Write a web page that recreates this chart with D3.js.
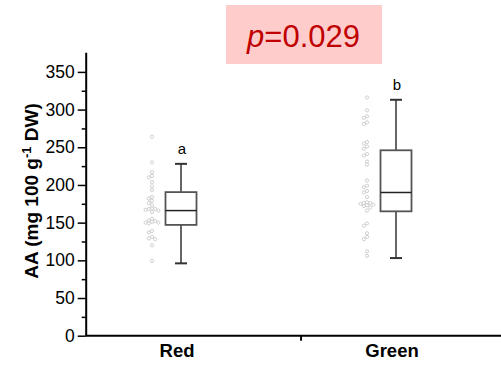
<!DOCTYPE html>
<html><head><meta charset="utf-8">
<script src="https://cdn.jsdelivr.net/npm/d3@7"></script>
<style>body{margin:0;background:#fff}</style>
</head><body><svg id="c" width="501" height="366"></svg>
<script>
const categories = ["Red", "Green"];
const letters = ["a", "b"];
const redValues = [264, 230, 217, 212, 210, 204, 198, 193, 184, 182, 179, 176, 173, 169, 168, 168, 167, 166, 164, 155, 153, 152, 151, 150, 150, 149, 139, 137, 131, 129, 128, 120, 99];
const greenValues = [316, 299, 291, 289, 283, 281, 257, 255, 251, 248, 241, 239, 231, 227, 206, 199, 197, 192, 190, 184, 177, 176, 176, 175, 174, 173, 172, 170, 166, 149, 146, 136, 131, 128, 112, 106];
const whiskerLow = [96, 103];
const q1 = [147, 165];
const median = [166, 190];
const q3 = [190.5, 246];
const whiskerHigh = [228, 313];
const yTicks = [0, 50, 100, 150, 200, 250, 300, 350];
const yMinorTicks = [25, 75, 125, 175, 225, 275, 325];
const pValue = "0.029";
const seriesValues = [redValues, greenValues];

const svg = d3.select("#c");
const font = "'Liberation Sans', Arial, sans-serif";
const y = d3.scaleLinear().domain([0, 376]).range([335.7, 52.3]);
const x = d3.scaleLinear().domain([0, 1]).range([177, 392]);

// p-value box
svg.append("rect").attr("x", 226).attr("y", 5).attr("width", 156).attr("height", 59).attr("fill", "#ffcccc");
const pt = svg.append("text").attr("x", 303.5).attr("y", 47).attr("text-anchor", "middle")
  .attr("font-family", font).attr("font-size", 31).attr("fill", "#c00000");
pt.append("tspan").attr("font-style", "italic").text("p");
pt.append("tspan").text("=" + pValue);

// y axis
const yAxis = svg.append("g").attr("transform", "translate(85.7,0)")
  .call(d3.axisLeft(y).tickValues(yTicks).tickSize(8).tickSizeOuter(0).tickPadding(3));
yAxis.selectAll("text").attr("font-family", font).attr("font-size", 17.5).attr("fill", "#000");
yAxis.selectAll("line").attr("stroke", "#000").attr("stroke-width", 1.5);
yAxis.select(".domain").attr("stroke", "#000").attr("stroke-width", 2);
const yMinor = svg.append("g").attr("transform", "translate(85.7,0)")
  .call(d3.axisLeft(y).tickValues(yMinorTicks).tickSize(4).tickFormat(""));
yMinor.select(".domain").remove();
yMinor.selectAll("line").attr("stroke", "#000").attr("stroke-width", 1.5);

// x axis
svg.append("line").attr("x1", 85.7).attr("x2", 501).attr("y1", y(0)).attr("y2", y(0))
  .attr("stroke", "#000").attr("stroke-width", 2);
svg.append("line").attr("x1", x(0.577)).attr("x2", x(0.577)).attr("y1", y(0)).attr("y2", y(0) + 5)
  .attr("stroke", "#000").attr("stroke-width", 2);
svg.selectAll(".xl").data(categories).enter().append("text")
  .attr("x", (d, i) => x(i)).attr("y", 356.7).attr("text-anchor", "middle")
  .attr("font-family", font).attr("font-weight", "bold").attr("font-size", 18.5).text(d => d);

// y label
const yl = svg.append("text").attr("transform", "translate(37.5,191) rotate(-90)")
  .attr("text-anchor", "middle").attr("font-family", font).attr("font-weight", "bold").attr("font-size", 19);
yl.append("tspan").text("AA (mg 100 g");
yl.append("tspan").attr("font-size", 13).attr("dy", -7).text("-1");
yl.append("tspan").attr("dy", 7).text(" DW)");

// dots (beeswarm)
const r = 1.6, step = 3.2;
seriesValues.forEach((vals, i) => {
  const cx0 = x(i) - 25;
  const placed = [];
  vals.slice().sort((a, b) => b - a).forEach(v => {
    const py = y(v);
    for (let k = 0; k < 20; k++) {
      const off = (k % 2 === 0 ? 1 : -1) * Math.ceil(k / 2) * step;
      const px = cx0 + off;
      if (!placed.some(p => Math.abs(p[0] - px) < 2.9 && Math.abs(p[1] - py) < 2.9)) {
        placed.push([px, py]); break;
      }
    }
  });
  svg.append("g").selectAll("circle").data(placed).enter().append("circle")
    .attr("cx", d => d[0]).attr("cy", d => d[1]).attr("r", r)
    .attr("fill", "#fff").attr("stroke", "#c4c4c4").attr("stroke-width", 0.8);
});

// boxes
categories.forEach((c, i) => {
  const cx = x(i) + 4, bw = 31, cw = 12;
  const g = svg.append("g").attr("stroke", "#555").attr("stroke-width", 2).attr("fill", "none");
  g.append("line").attr("x1", cx).attr("x2", cx).attr("y1", y(whiskerHigh[i])).attr("y2", y(q3[i])).attr("stroke", "#666");
  g.append("line").attr("x1", cx).attr("x2", cx).attr("y1", y(q1[i])).attr("y2", y(whiskerLow[i])).attr("stroke", "#666");
  g.append("line").attr("x1", cx - cw / 2).attr("x2", cx + cw / 2).attr("y1", y(whiskerHigh[i])).attr("y2", y(whiskerHigh[i])).attr("stroke", "#333");
  g.append("line").attr("x1", cx - cw / 2).attr("x2", cx + cw / 2).attr("y1", y(whiskerLow[i])).attr("y2", y(whiskerLow[i])).attr("stroke", "#333");
  g.append("rect").attr("x", cx - bw / 2).attr("y", y(q3[i])).attr("width", bw).attr("height", y(q1[i]) - y(q3[i])).attr("stroke-width", 1.8);
  g.append("line").attr("x1", cx - bw / 2).attr("x2", cx + bw / 2).attr("y1", y(median[i])).attr("y2", y(median[i])).attr("stroke", "#222").attr("stroke-width", 1.5);
  svg.append("text").attr("x", cx + 1).attr("y", y(whiskerHigh[i]) - 9.5).attr("text-anchor", "middle")
    .attr("font-family", font).attr("font-size", 15).text(letters[i]);
});
</script></body></html>
